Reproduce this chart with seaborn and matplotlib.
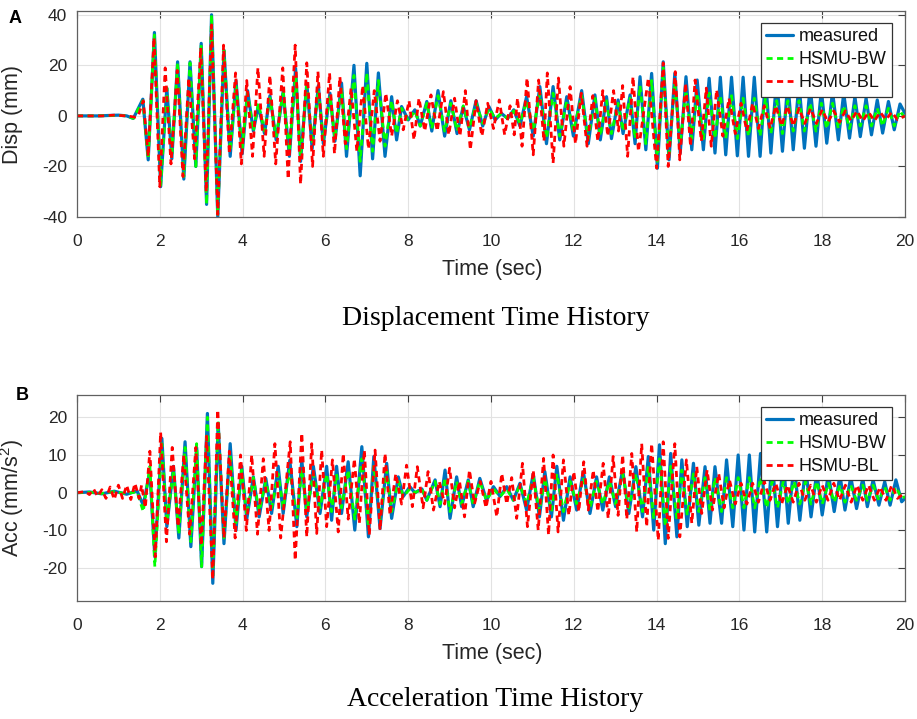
import numpy as np
import pandas as pd
import matplotlib
matplotlib.use("Agg")
import matplotlib.pyplot as plt
import seaborn as sns

# ---------------- data (extrema) ----------------
tick_x = [0, 2, 4, 6, 8, 10, 12, 14, 16, 18, 20]
tick_disp = [-40, -20, 0, 20, 40]
tick_acc = [-20, -10, 0, 10, 20]
series_names = ["measured", "HSMU-BW", "HSMU-BL"]

# Displacement: measured and HSMU-BW share the extrema times
disp_t = [0.0, 0.5, 1.0, 1.2, 1.36, 1.59, 1.72, 1.87, 2.02, 2.17,
          2.29, 2.43, 2.58, 2.73, 2.87, 3.0, 3.13, 3.25, 3.4, 3.55,
          3.7, 3.84, 3.99, 4.12, 4.26, 4.38, 4.53, 4.66, 4.81, 4.98,
          5.13, 5.28, 5.40, 5.55, 5.68, 5.83, 5.95, 6.11, 6.23, 6.39,
          6.51, 6.69, 6.84, 7.0, 7.14, 7.28, 7.44, 7.60, 7.72, 7.84,
          8.0, 8.16, 8.29, 8.45, 8.57, 8.72, 8.88, 9.03, 9.18, 9.33,
          9.48, 9.64, 9.80, 9.95, 10.1, 10.25, 10.4, 10.55, 10.70, 10.86,
          11.02, 11.18, 11.34, 11.50, 11.66, 11.83, 11.99, 12.19, 12.35, 12.51,
          12.64, 12.79, 12.91, 13.07, 13.19, 13.36, 13.48, 13.60, 13.74, 13.88,
          14.02, 14.16, 14.30, 14.44, 14.57, 14.71, 14.85, 14.98, 15.13, 15.27,
          15.41, 15.54, 15.67, 15.81, 15.95, 16.09, 16.22, 16.36, 16.50, 16.63,
          16.76, 16.90, 17.04, 17.17, 17.30, 17.44, 17.57, 17.71, 17.85, 17.98,
          18.11, 18.25, 18.39, 18.52, 18.66, 18.79, 18.92, 19.06, 19.19, 19.33,
          19.46, 19.60, 19.74, 19.88, 20.0]
disp_meas = [0, 0, 0.3, 0, -1, 6.6, -17.4, 33, -28, 11,
             -17, 21.4, -25, 21.4, -20, 28.7, -35, 40, -40, 26,
             -16, 14, -15, 10, -6, 4, -7, 8, -9.5, 9.6,
             -16, 18.8, -18, 13, -13, 12, -11, 9, -10, 13,
             -16, 20, -23.7, 20.8, -17, 17, -16, 7.6, -9.5, 3.7,
             -1.6, 2.4, -4, 5.7, -6, 10, -8, 6, -7, 3.7,
             -5.5, 6, -4, 3.7, -1.6, 1, -1, 2.4, -4, 7.6,
             -8, 11.6, -11, 11.6, -9.5, 7.6, -8, 10, -11, 8.3,
             -9.5, 7.6, -9, 6.3, -7, 8.3, -11, 15.5, -13.4, 16.8,
             -20.7, 21.4, -17.4, 16.8, -14.7, 15.5, -13.4, 14.2, -13.4, 14.9,
             -14.7, 15.3, -15.4, 15.3, -15.8, 15.3, -16, 15.3, -16, 15.3,
             -14.7, 14.9, -14, 13.6, -13.4, 12.9, -12.8, 11.6, -12, 10.3,
             -10.8, 9.6, -9.5, 9, -8.8, 7.6, -8.2, 7, -7.5, 6.3,
             -6.8, 5.7, -5.5, 4.7, 1]
disp_bw = [0, 0, 0.2, 0, -1, 6, -17, 32, -28, 11,
           -16, 21, -24, 21, -20, 28, -35, 40, -39, 26,
           -14, 12, -13, 9, -6, 5, -6, 7, -8, 9,
           -14, 16, -16, 12, -11, 10, -9, 8, -9, 11,
           -13, 16, -18, 17, -14, 14, -12, 6, -7, 3,
           -2, 2, -4, 5, -5, 8, -6, 5, -6, 4,
           -5, 5, -3, 3, -1, 1, -1, 2, -3, 6,
           -6, 9, -9, 9, -8, 6, -6, 8, -9, 7,
           -8, 6, -7, 5, -6, 7, -9, 12, -11, 14,
           -18, 19, -15, 13, -11, 10, -9, 9, -9, 9,
           -9, 8, -9, 8, -9, 7, -8, 7, -8, 7,
           -7, 6, -7, 6, -6, 6, -6, 5, -6, 5,
           -5, 5, -5, 4, -5, 4, -4, 4, -4, 3,
           -4, 3, -4, 2, -1]
disp_bl_t = [0.0, 0.3, 0.6, 0.9, 1.2, 1.4, 1.48, 1.6, 1.72, 1.86,
             2.0, 2.13, 2.27, 2.42, 2.56, 2.70, 2.84, 2.99, 3.12, 3.25,
             3.40, 3.54, 3.68, 3.83, 3.97, 4.10, 4.24, 4.37, 4.52, 4.66,
             4.80, 4.97, 5.10, 5.27, 5.40, 5.55, 5.69, 5.82, 5.95, 6.10,
             6.22, 6.35, 6.48, 6.62, 6.76, 6.90, 7.04, 7.18, 7.32, 7.46,
             7.60, 7.74, 7.88, 8.02, 8.14, 8.26, 8.40, 8.55, 8.70, 8.85,
             8.98, 9.12, 9.25, 9.38, 9.50, 9.64, 9.78, 9.92, 10.06, 10.20,
             10.33, 10.46, 10.56, 10.64, 10.75, 10.87, 11.02, 11.15, 11.28, 11.36,
             11.50, 11.63, 11.76, 11.91, 12.04, 12.18, 12.32, 12.46, 12.58, 12.70,
             12.82, 12.96, 13.08, 13.18, 13.30, 13.43, 13.56, 13.80, 14.0, 14.16,
             14.28, 14.45, 14.56, 14.70, 14.82, 14.93, 15.08, 15.20, 15.32, 15.45,
             15.60, 15.75, 15.90, 16.04, 16.18, 16.32, 16.46, 16.60, 16.74, 16.88,
             17.02, 17.16, 17.30, 17.44, 17.58, 17.72, 17.86, 18.0, 18.14, 18.28,
             18.42, 18.56, 18.70, 18.84, 18.98, 19.12, 19.26, 19.40, 19.54, 19.68,
             19.82, 20.0]
disp_bl = [0, 0, 0, 0.3, 0, -0.5, 0, 6, -16, 31,
           -28, 19, -19, 18, -24, 15, -17, 27, -30, 36,
           -39, 28, -15, 17, -19, 14, -16, 19, -16, 16,
           -19, 19, -25, 28, -27, 21, -20, 17.5, -16, 17,
           -15, 15.5, -11, 11, -14, 12, -13, 10, -10, 9,
           -8, 6, -5.5, 6, -9.5, 7, -6, 8.3, -6, 9.6,
           -7.5, 7, -8, 10, -13.4, 6, -8, 5, -5, 6.3,
           -7.5, 4, -7.5, 7, -12, 15, -15.4, 14.2, -10, 17,
           -18.7, 15, -12, 11.6, -11, 9, -12, 8, -10, 10,
           -8, 10, -6, 12, -16, 15.5, -14, 15, -20.7, 21,
           -20, 17.5, -17.4, 13, -12, 14.2, -10, 11, -12, 10.3,
           -8, 7, -7, 5, -6, 5, -5, 4, -5, 4,
           -4, 4, -4, 3, -3, 3, -3, 2.5, -2.5, 2,
           -2.5, 2, -2, 2, -2, 1.5, -2, 1.5, -1.5, 1.5,
           -1.5, 0]

# Acceleration: measured and HSMU-BW share the extrema times
acc_t = [0.0, 0.3, 0.6, 0.9, 1.2, 1.45, 1.6, 1.76, 1.88, 2.05,
         2.17, 2.33, 2.46, 2.61, 2.75, 2.89, 3.01, 3.15, 3.28, 3.41,
         3.55, 3.70, 3.84, 3.98, 4.10, 4.26, 4.40, 4.56, 4.70, 4.86,
         4.98, 5.14, 5.31, 5.43, 5.55, 5.71, 5.87, 6.03, 6.15, 6.27,
         6.39, 6.55, 6.71, 6.88, 7.04, 7.17, 7.32, 7.48, 7.60, 7.76,
         7.88, 8.04, 8.16, 8.33, 8.45, 8.65, 8.77, 8.89, 9.01, 9.17,
         9.29, 9.45, 9.57, 9.73, 9.89, 10.06, 10.22, 10.38, 10.54, 10.70,
         10.86, 11.02, 11.17, 11.30, 11.46, 11.59, 11.75, 11.91, 12.07, 12.23,
         12.39, 12.55, 12.70, 12.86, 13.01, 13.18, 13.33, 13.50, 13.66, 13.80,
         13.93, 14.07, 14.21, 14.34, 14.49, 14.61, 14.74, 14.89, 15.02, 15.17,
         15.29, 15.41, 15.57, 15.69, 15.84, 15.97, 16.11, 16.24, 16.37, 16.51,
         16.66, 16.79, 16.92, 17.06, 17.18, 17.32, 17.46, 17.60, 17.73, 17.87,
         18.0, 18.15, 18.29, 18.43, 18.55, 18.69, 18.83, 18.98, 19.09, 19.23,
         19.37, 19.51, 19.64, 19.78, 19.92, 20.0]
acc_meas = [0, 0.2, -0.3, 0.4, -0.4, 0.5, -3.3, 5.6, -17, 14.4,
            -9, 7, -12, 13.5, -14.3, 12, -19.6, 21, -24, 18.4,
            -13.5, 13, -10, 7, -7, 4.2, -6.4, 3.8, -5.5, 7,
            -5.5, 8.6, -9, 8.7, -6.4, 7, -5.5, 7, -7.3, 7,
            -5.5, 8.2, -9.9, 12.2, -11.7, 9.6, -9.5, 7.8, -6.8, 4.2,
            -1, 1.6, 0, 1, -2, 3.4, -3.7, 6, -6.8, 4.2,
            -3.7, 3.4, -3.7, 3.8, -2, 1.6, -1, 1.6, -2, 2.5,
            -4.6, 5, -6.4, 5.6, -6.4, 7, -7.3, 4.2, -4.6, 5.6,
            -5.5, 4.2, -4.6, 4.2, -3.7, 6, -5.5, 6.9, -6.4, 9.6,
            -9.9, 12.7, -13.5, 10.4, -11.7, 8.7, -9, 7.8, -8.6, 6.9,
            -8.1, 6.9, -8.1, 8.7, -9, 10, -9.9, 10, -10.4, 10.4,
            -10.4, 9.1, -9, 8.7, -8.1, 7.8, -7.3, 6.9, -6.4, 5.6,
            -5.9, 5.1, -5, 4.7, -4.6, 4.2, -4.2, 3.8, -3.7, 3.4,
            -3.3, 2.9, -3.3, 3.4, -2.4, -1.5]
acc_bw = [0, 0.1, -0.2, 0.3, -0.3, 0.3, -5, 7, -19.6, 13,
          -8, 6, -11, 12, -13, 13, -19.6, 20, -22, 19,
          -12, 10, -8, 6, -6, 4, -5, 3, -4, 5,
          -4, 6, -7, 6, -5, 5, -4, 5, -5, 5,
          -4, 6, -7, 9, -9, 7, -7, 6, -5, 3,
          -1, 1, 0, 1, -2, 3, -3, 4, -5, 3,
          -3, 3, -3, 3, -2, 1, -1, 1, -2, 2,
          -3, 4, -5, 4, -5, 5, -5, 3, -3, 4,
          -4, 3, -3, 3, -3, 5, -4, 5, -5, 7,
          -7, 9, -9, 7, -7, 6, -6, 5, -5, 4,
          -5, 4, -5, 4, -4, 4, -4, 4, -4, 4,
          -4, 3, -4, 3, -3, 3, -3, 3, -3, 3,
          -3, 2.5, -2.5, 2, -2.5, 2, -2, 2, -2, 2,
          -2, 1.5, -2, 1.5, -1.5, -1]
acc_bl_t = [0.0, 0.2, 0.3, 0.4, 0.5, 0.6, 0.7, 0.8, 0.9, 1.0,
            1.1, 1.2, 1.3, 1.4, 1.5, 1.56, 1.65, 1.76, 1.89, 2.02,
            2.16, 2.30, 2.44, 2.58, 2.72, 2.87, 3.0, 3.13, 3.28, 3.40,
            3.55, 3.68, 3.82, 3.95, 4.09, 4.22, 4.36, 4.50, 4.64, 4.78,
            4.92, 5.15, 5.27, 5.43, 5.55, 5.67, 5.79, 5.91, 6.03, 6.17,
            6.31, 6.43, 6.55, 6.70, 6.82, 6.94, 7.06, 7.20, 7.32, 7.44,
            7.56, 7.70, 7.84, 7.96, 8.10, 8.22, 8.36, 8.48, 8.61, 8.75,
            8.88, 9.0, 9.12, 9.24, 9.36, 9.48, 9.60, 9.74, 9.88, 10.0,
            10.14, 10.26, 10.38, 10.50, 10.62, 10.76, 10.88, 11.02, 11.14, 11.27,
            11.39, 11.50, 11.62, 11.75, 11.88, 12.0, 12.12, 12.24, 12.35, 12.47,
            12.58, 12.71, 12.83, 12.95, 13.07, 13.18, 13.28, 13.40, 13.52, 13.64,
            13.76, 13.88, 14.04, 14.16, 14.28, 14.44, 14.56, 14.72, 14.85, 14.97,
            15.09, 15.22, 15.35, 15.50, 15.63, 15.76, 15.90, 16.04, 16.18, 16.32,
            16.46, 16.60, 16.74, 16.88, 17.02, 17.16, 17.30, 17.44, 17.58, 17.72,
            17.86, 18.00, 18.14, 18.28, 18.42, 18.56, 18.70, 18.84, 18.98, 19.12,
            19.26, 19.40, 19.54, 19.68, 19.82, 20.0]
acc_bl = [0, 0.3, -0.5, 1, -1, 0.8, -1.5, 1.5, -1.8, 2,
          -1.5, 2, -1.8, 2.5, -1.5, 2, -4, 11, -17, 16,
          -13, 12, -9, 10, -11, 12, -14, 15, -23, 22,
          -12, 11, -12, 10, -10, 10, -11, 9, -10, 13,
          -12, 13.5, -17.9, 15.8, -11.7, 13, -10.8, 11.3, -9, 8.7,
          -10.4, 10.4, -7, 9, -8.1, 11.3, -11.2, 11.3, -9.9, 10.4,
          -5.9, 5, -3, 7.3, -3.7, 6.9, -4, 5.6, -4.6, 3,
          -3, 6.5, -4, 3, -6.4, 6, -3, 3, -4, 3,
          -6.4, 5.1, -3, 4, -6.8, 7.8, -9, 6, -9.9, 9.1,
          -11.2, 10, -10.4, 8.7, -6, 5.6, -5, 8.2, -4.6, 6,
          -5, 7.8, -6.8, 9.6, -6, 10, -7, 10.4, -10.4, 13,
          -9, 13, -12.6, 13.5, -12.1, 13, -11.7, 8.7, -8.1, 6.9,
          -5.5, 6, -4.6, 5.1, -4, 3.4, -3, 2.5, -3, 2.5,
          -2.5, 3, -2, 2.5, -3, 2, -2.5, 2.5, -2, 2,
          -2.5, 2, -2, 2.5, -2, 2, -2.5, 2, -2, 2,
          -2, 1.5, -2, 2, -1.5, 0]

# ---------------- style ----------------
sns.set_theme(style="white")
plt.rcParams["font.family"] = ["Liberation Sans", "DejaVu Sans"]
plt.rcParams["axes.unicode_minus"] = False
plt.rcParams["mathtext.default"] = "regular"

C_MEAS = "#0072BD"
C_BW = "#00FF00"
C_BL = "#FF0000"
TXT = "#262626"

fig = plt.figure(figsize=(9.17, 7.19), dpi=100)
axA = fig.add_axes([77 / 917, 1 - 217 / 719, 828 / 917, 206 / 719])
axB = fig.add_axes([77 / 917, 1 - 601 / 719, 828 / 917, 206 / 719])


def draw(ax, t_mb, v_meas, v_bw, t_bl, v_bl, ylim, yticks, ylabel, ylab_x, leg_top):
    df_m = pd.DataFrame({"t": t_mb, "v": v_meas})
    df_w = pd.DataFrame({"t": t_mb, "v": v_bw})
    df_l = pd.DataFrame({"t": t_bl, "v": v_bl})
    sns.lineplot(data=df_m, x="t", y="v", ax=ax, color=C_MEAS, linewidth=2.3,
                 estimator=None, errorbar=None, label=series_names[0])
    sns.lineplot(data=df_w, x="t", y="v", ax=ax, color=C_BW, linewidth=2.0,
                 estimator=None, errorbar=None, label=series_names[1])
    sns.lineplot(data=df_l, x="t", y="v", ax=ax, color=C_BL, linewidth=2.0,
                 estimator=None, errorbar=None, label=series_names[2])
    lines = ax.get_lines()
    lines[1].set_dashes([2.2, 1.6])
    lines[2].set_dashes([2.2, 1.6])

    ax.set_xlim(0, 20)
    ax.set_ylim(*ylim)
    ax.set_xticks(tick_x)
    ax.set_yticks(yticks)
    ax.grid(True, color="#e2e2e2", linewidth=0.8)
    ax.set_axisbelow(True)
    ax.tick_params(direction="in", top=True, right=True, length=5, width=0.8,
                   color="#404040", labelcolor=TXT, labelsize=12.5)
    ax.tick_params(axis="x", pad=12)
    ax.tick_params(axis="y", pad=7)
    for s in ax.spines.values():
        s.set_color("#606060")
        s.set_linewidth(0.9)
    ax.set_xlabel("Time (sec)", fontsize=15.5, color=TXT)
    ax.set_ylabel(ylabel, fontsize=15.5, color=TXT)
    ax.xaxis.set_label_coords(0.502, -0.205)
    ax.yaxis.set_label_coords(ylab_x, 0.5)

    leg = ax.legend(handles=lines[:3], labels=series_names, loc="upper right",
                    bbox_to_anchor=(0.984, leg_top), borderaxespad=0,
                    fancybox=False, framealpha=1, edgecolor="#333333",
                    fontsize=13, handlelength=1.5, handletextpad=0.3,
                    labelspacing=0.33, borderpad=0.3)
    leg.get_frame().set_linewidth(0.9)
    for txt in leg.get_texts():
        txt.set_color("#111111")


draw(axA, disp_t, disp_meas, disp_bw, disp_bl_t, disp_bl,
     (-40, 41.5), tick_disp, "Disp (mm)", -0.0652, 0.942)
draw(axB, acc_t, acc_meas, acc_bw, acc_bl_t, acc_bl,
     (-28.7, 25.9), tick_acc, "Acc (mm/s$^{2}$)", -0.0615, 0.943)

fig.text(15.5 / 917, 1 - 18.5 / 719, "A", fontsize=13, fontweight="bold",
         ha="center", va="center", color="black")
fig.text(22.5 / 917, 1 - 395 / 719, "B", fontsize=13, fontweight="bold",
         ha="center", va="center", color="black")

fig.text(496 / 917, 1 - 325 / 719, "Displacement Time History",
         fontsize=20, family=["Liberation Serif", "DejaVu Serif"],
         ha="center", va="baseline", color="black")
fig.text(495 / 917, 1 - 706.5 / 719, "Acceleration Time History",
         fontsize=20, family=["Liberation Serif", "DejaVu Serif"],
         ha="center", va="baseline", color="black")

fig.savefig("out.png", dpi=100)
